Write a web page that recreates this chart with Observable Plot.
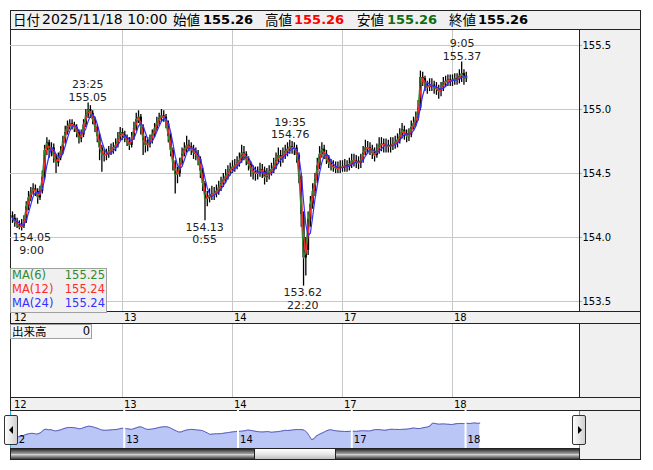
<!DOCTYPE html>
<html><head><meta charset="utf-8">
<script src="https://cdn.jsdelivr.net/npm/d3@7"></script>
<script src="https://cdn.jsdelivr.net/npm/@observablehq/plot@0.6"></script>
<style>
body{margin:0;background:#fff;font-family:"DejaVu Sans","Noto Sans CJK JP",sans-serif;}
#root{position:relative;width:653px;height:470px;overflow:hidden;}
.box{position:absolute;box-sizing:border-box;border:1px solid #222;}
.abs{position:absolute;white-space:nowrap;}
</style></head><body><div id="root"></div>
<script>
// ---- data ----
const dayTicks=[0,24,48,72,96];               // trading hours since 12th 7:00
const dayLabels=["12","13","14","17","18"];
const yTicks=[153.5,154.0,154.5,155.0,155.5];
const firstOpen=154.17;
// 30-minute bars, 12th 7:00 .. 18th 10:00
const closes=[154.15,154.12,154.10,154.08,154.09,154.13,154.24,154.31,154.35,154.38,
154.36,154.31,154.36,154.47,154.68,154.74,154.68,154.70,154.63,154.58,
154.62,154.67,154.75,154.82,154.87,154.89,154.88,154.86,154.82,154.77,
154.80,154.88,154.95,155.00,154.97,154.92,154.86,154.79,154.70,154.65,
154.64,154.65,154.67,154.69,154.70,154.72,154.77,154.82,154.80,154.78,
154.75,154.72,154.78,154.85,154.92,154.94,154.86,154.76,154.72,154.73,
154.76,154.80,154.85,154.90,154.93,154.95,154.94,154.89,154.79,154.68,
154.58,154.49,154.50,154.58,154.65,154.69,154.72,154.71,154.69,154.66,
154.65,154.61,154.52,154.42,154.30,154.31,154.33,154.34,154.34,154.36,
154.39,154.42,154.45,154.48,154.51,154.53,154.55,154.56,154.58,154.60,
154.66,154.65,154.61,154.57,154.53,154.51,154.50,154.50,154.53,154.52,
154.47,154.49,154.51,154.53,154.56,154.60,154.64,154.62,154.64,154.67,
154.69,154.71,154.70,154.70,154.64,154.48,154.18,153.84,153.90,154.14,
154.26,154.36,154.45,154.56,154.65,154.69,154.65,154.61,154.58,154.56,
154.55,154.54,154.54,154.55,154.55,154.56,154.55,154.57,154.60,154.60,
154.59,154.58,154.60,154.66,154.70,154.70,154.69,154.66,154.64,154.68,
154.72,154.73,154.72,154.72,154.71,154.72,154.73,154.74,154.76,154.80,
154.84,154.81,154.79,154.80,154.86,154.89,154.93,155.01,155.25,155.24,
155.19,155.17,155.19,155.19,155.17,155.16,155.14,155.16,155.21,155.22,
155.23,155.22,155.23,155.24,155.23,155.26,155.28,155.24,155.26];
const highs=[154.20,154.18,154.15,154.13,154.14,154.17,154.28,154.36,154.39,154.42,
154.41,154.38,154.40,154.52,154.72,154.78,154.76,154.74,154.73,154.65,
154.66,154.71,154.79,154.87,154.91,154.92,154.92,154.90,154.88,154.84,
154.84,154.92,155.00,155.05,155.03,154.99,154.94,154.88,154.81,154.72,
154.69,154.69,154.71,154.73,154.74,154.77,154.82,154.86,154.85,154.83,
154.80,154.78,154.82,154.90,154.97,154.99,154.96,154.88,154.79,154.78,
154.80,154.84,154.89,154.94,154.97,155.00,154.99,154.96,154.91,154.81,
154.70,154.60,154.55,154.62,154.70,154.74,154.79,154.76,154.74,154.72,
154.70,154.68,154.63,154.54,154.44,154.36,154.38,154.40,154.39,154.41,
154.44,154.47,154.50,154.53,154.56,154.58,154.60,154.61,154.63,154.66,
154.72,154.71,154.67,154.63,154.59,154.56,154.55,154.55,154.58,154.57,
154.55,154.54,154.56,154.58,154.62,154.66,154.70,154.68,154.70,154.72,
154.74,154.76,154.75,154.74,154.72,154.66,154.50,154.20,154.00,154.20,
154.32,154.42,154.50,154.62,154.71,154.74,154.72,154.68,154.64,154.61,
154.60,154.59,154.59,154.60,154.60,154.61,154.60,154.62,154.65,154.65,
154.64,154.63,154.65,154.71,154.76,154.75,154.74,154.72,154.70,154.73,
154.78,154.78,154.77,154.77,154.76,154.78,154.78,154.79,154.81,154.85,
154.89,154.87,154.84,154.85,154.91,154.94,154.98,155.07,155.30,155.29,
155.26,155.22,155.24,155.24,155.22,155.21,155.19,155.21,155.25,155.26,
155.27,155.27,155.27,155.28,155.28,155.31,155.37,155.31,155.29];
const lows=[154.11,154.08,154.07,154.06,154.05,154.07,154.11,154.21,154.28,154.33,
154.32,154.26,154.29,154.34,154.45,154.64,154.62,154.63,154.58,154.50,
154.55,154.60,154.65,154.73,154.80,154.84,154.84,154.82,154.78,154.73,
154.74,154.78,154.86,154.93,154.93,154.88,154.82,154.74,154.60,154.51,
154.59,154.60,154.62,154.64,154.65,154.67,154.70,154.75,154.76,154.74,
154.71,154.68,154.70,154.76,154.83,154.89,154.80,154.64,154.66,154.67,
154.70,154.73,154.78,154.83,154.87,154.90,154.90,154.85,154.74,154.63,
154.52,154.34,154.42,154.47,154.56,154.63,154.66,154.67,154.64,154.61,
154.60,154.56,154.46,154.36,154.13,154.24,154.27,154.29,154.29,154.31,
154.33,154.36,154.39,154.42,154.45,154.48,154.50,154.51,154.53,154.55,
154.58,154.60,154.56,154.52,154.47,154.45,154.44,154.45,154.47,154.46,
154.41,154.43,154.45,154.48,154.50,154.53,154.57,154.55,154.58,154.61,
154.63,154.65,154.65,154.64,154.58,154.42,154.08,153.62,153.70,153.86,
154.08,154.22,154.32,154.42,154.53,154.62,154.61,154.57,154.54,154.52,
154.51,154.50,154.50,154.50,154.51,154.51,154.51,154.52,154.54,154.55,
154.54,154.53,154.54,154.58,154.64,154.65,154.64,154.61,154.59,154.62,
154.65,154.67,154.66,154.66,154.66,154.66,154.68,154.69,154.70,154.73,
154.77,154.76,154.74,154.75,154.78,154.84,154.87,154.91,154.99,155.18,
155.14,155.12,155.14,155.14,155.12,155.11,155.08,155.10,155.14,155.17,
155.18,155.18,155.18,155.19,155.19,155.20,155.21,155.19,155.21];
const annT=[2,16.42,41.92,60.58,63.33,98.08];
const annPrice=[154.05,155.05,154.13,154.76,153.62,155.37];
const annTime=["9:00","23:25","0:55","19:35","22:20","9:05"];
const annKind=["low","high","low","high","low","high"];
const maNames=["MA(6)","MA(12)","MA(24)"];
const maValues=["155.25","155.24","155.24"];
const maWindows=[1,2,4]; // in 30-min bars (= 6/12/24 five-minute bars)
const maColors=["#2e8b2e","#ff2a2a","#3030ff"];
const headerDate="2025/11/18 10:00";
const headerLabels=["始値","高値","安値","終値"];
const headerValues=["155.26","155.26","155.26","155.26"];
const headerColors=["#000","#ff0000","#0f6e0f","#000"];
const volumeLabel="出来高", volumeValue="0";

// ---- build ----
const root=document.getElementById("root");
function el(cls, css, html){const d=document.createElement("div");d.className=cls;d.style.cssText=css;if(html!==undefined)d.innerHTML=html;root.appendChild(d);return d;}
function put(node, left, top){node.style.position="absolute";node.style.left=left+"px";node.style.top=top+"px";root.appendChild(node);}

const bars=closes.map((c,i)=>({t:i*0.5,o:i?closes[i-1]:firstOpen,c,h:highs[i],l:lows[i]}));
const X_DOMAIN=[-0.436,123.71];
const baseStyle={fontFamily:"DejaVu Sans",fontSize:"11px",background:"transparent",color:"#000",overflow:"visible"};

// header
el("box","left:10px;top:10px;width:631px;height:20px;background:#f0f0f0;");
const hs="top:10px;height:19px;line-height:19px;";
el("abs",hs+"left:13px;font-size:13.5px;font-family:'Noto Sans CJK JP';","日付");
el("abs",hs+"left:42px;font-size:14px;",headerDate);
const hx=[[173,203],[265,294],[357,387],[449,478]];
headerLabels.forEach((l,i)=>{
  el("abs",hs+`left:${hx[i][0]}px;font-size:13.5px;font-family:'Noto Sans CJK JP';`,l);
  el("abs",hs+`left:${hx[i][1]}px;font-size:13px;font-weight:bold;color:${headerColors[i]};`,headerValues[i]);
});

// panels
el("box","left:10px;top:29px;width:631px;height:283px;background:#fff;");
el("box","left:579px;top:29px;width:62px;height:283px;background:#f0f0f0;");
el("box","left:10px;top:311px;width:631px;height:13px;background:#f0f0f0;");
el("box","left:10px;top:323px;width:631px;height:75px;background:#fff;");
el("box","left:579px;top:323px;width:62px;height:75px;background:#f0f0f0;");
el("box","left:10px;top:397px;width:631px;height:14px;background:#f0f0f0;");
el("box","left:10px;top:410px;width:631px;height:50px;background:#fff;");
el("box","left:579px;top:410px;width:62px;height:50px;background:#f0f0f0;");

// main chart
const ann=annT.map((t,i)=>({i,t,p:annPrice[i],kind:annKind[i],
  text:annKind[i]==="high"?`${annTime[i]}\n${annPrice[i].toFixed(2)}`:`${annPrice[i].toFixed(2)}\n${annTime[i]}`}));
const main=Plot.plot({
  width:630,height:281,marginLeft:0,marginRight:61,marginTop:0,marginBottom:0,
  style:baseStyle,
  x:{domain:X_DOMAIN,axis:null},
  y:{domain:[153.422,155.617],axis:null},
  marks:[
    Plot.gridY(yTicks,{stroke:"#c8c8c8",strokeOpacity:1}),
    Plot.gridX(dayTicks.slice(1),{stroke:"#c8c8c8",strokeOpacity:1}),
    Plot.ruleX(bars,{x:"t",y1:"l",y2:"h",stroke:"#000",strokeWidth:1.3,clip:true}),
    Plot.ruleX(bars,{x:"t",y1:"o",y2:"c",stroke:"#000",strokeWidth:2.1,clip:true}),
    ...maWindows.map((k,j)=>Plot.lineY(bars,Plot.windowY({k,anchor:"end"},{x:"t",y:"c",stroke:maColors[j],strokeWidth:1.2,clip:true}))),
    Plot.axisY({anchor:"right",ticks:yTicks,tickSize:2,tickPadding:1,tickFormat:d3.format(".1f"),fontSize:10,stroke:"#aaa",fill:"#000"}),
    Plot.text(ann.filter(d=>d.kind==="high"),{x:"t",y:"p",text:"text",lineAnchor:"bottom",dy:-2,lineHeight:1.15,fontSize:11,fill:"#222"}),
    Plot.text(ann.filter(d=>d.kind==="low"&&d.i>0),{x:"t",y:"p",text:"text",lineAnchor:"top",dy:1,lineHeight:1.15,fontSize:11,fill:"#222"}),
    Plot.text(ann.filter(d=>d.i===0),{x:"t",y:"p",text:"text",lineAnchor:"top",dy:1,dx:10,lineHeight:1.15,fontSize:11,fill:"#222"})
  ]
});
put(main,10,30);

// MA legend
el("box","left:10px;top:268px;width:97px;height:45px;background:#f0f0f0;border-color:#a0a0a0;");
maNames.forEach((n,i)=>{
  el("abs",`left:12px;top:${268+i*14}px;height:14px;line-height:14px;font-size:11.5px;color:${maColors[i]};`,n);
  el("abs",`left:40px;width:65px;text-align:right;top:${268+i*14}px;height:14px;line-height:14px;font-size:11.5px;color:${maColors[i]};`,maValues[i]);
});

// date strips
function strip(top,h){
  const s=Plot.plot({width:630,height:h,marginLeft:0,marginRight:61,marginTop:0,marginBottom:0,style:baseStyle,
    x:{domain:X_DOMAIN,axis:null},
    marks:[Plot.text(dayTicks,{x:d=>d,text:(d,i)=>dayLabels[i],textAnchor:"start",dx:1.5,frameAnchor:"middle",fontSize:10,fill:"#000"})]});
  put(s,10,top);
}
strip(312,11);
strip(398,12);

// volume panel
const vol=Plot.plot({width:569,height:73,margin:0,style:baseStyle,x:{domain:X_DOMAIN,axis:null},
  marks:[Plot.gridX(dayTicks.slice(1),{stroke:"#c8c8c8",strokeOpacity:1})]});
put(vol,10,324);
el("box","left:10px;top:324px;width:82px;height:15px;background:#f4f4f4;border-color:#a0a0a0;");
el("abs","left:12px;top:324px;height:15px;line-height:15px;font-size:11.5px;font-family:'Noto Sans CJK JP';",volumeLabel);
el("abs","left:60px;width:30px;text-align:right;top:324px;height:15px;line-height:15px;font-size:11.5px;",volumeValue);

// navigator
const nav=Plot.plot({width:569,height:38,margin:0,style:baseStyle,
  x:{domain:[0,120.04],axis:null},y:{domain:[153.07,156.35],axis:null},
  marks:[
    Plot.areaY(bars,{x:"t",y1:153.07,y2:"c",fill:"#b9c6f6"}),
    Plot.lineY(bars,{x:"t",y:"c",stroke:"#5b5bb8",strokeWidth:1}),
    Plot.ruleX(dayTicks.slice(1),{stroke:"#fff",strokeWidth:2}),
    Plot.text(dayTicks,{x:d=>d,text:(d,i)=>dayLabels[i],textAnchor:"start",dx:2,frameAnchor:"bottom",dy:-6,fontSize:10,fill:"#000"})
  ]});
put(nav,10,410);
// scrollbar
el("box","left:10px;top:448px;width:570px;height:12px;background:linear-gradient(#2a2a2a,#9a9a9a 45%,#cfcfcf 55%,#3a3a3a);");
el("box","left:254px;top:448px;width:82px;height:12px;background:linear-gradient(#ffffff,#e8e8e8 50%,#bdbdbd);");
// cyan window markers
el("abs","left:10px;top:411px;width:1px;height:4px;background:#1ab0e8;");
el("abs","left:10px;top:444px;width:1px;height:4px;background:#1ab0e8;");
el("abs","left:579px;top:411px;width:1px;height:4px;background:#1ab0e8;");
el("abs","left:579px;top:444px;width:1px;height:4px;background:#1ab0e8;");
// arrow buttons
el("box","left:4px;top:415px;width:14px;height:30px;background:linear-gradient(90deg,#ffffff,#d0d0d0);border-color:#333;border-radius:2px;");
el("abs","left:9px;top:426px;width:0;height:0;border-top:4px solid transparent;border-bottom:4px solid transparent;border-right:4px solid #000;");
el("box","left:572px;top:415px;width:14px;height:30px;background:linear-gradient(90deg,#ffffff,#d0d0d0);border-color:#333;border-radius:2px;");
el("abs","left:578px;top:426px;width:0;height:0;border-top:4px solid transparent;border-bottom:4px solid transparent;border-left:4px solid #000;");
</script></body></html>
